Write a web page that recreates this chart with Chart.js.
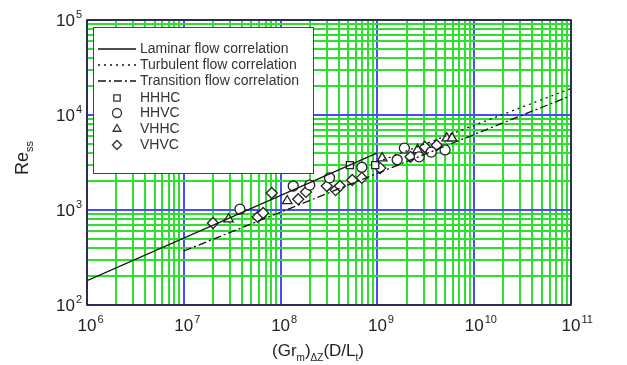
<!DOCTYPE html>
<html>
<head>
<meta charset="utf-8">
<script src="https://cdn.jsdelivr.net/npm/chart.js@4"></script>
<style>
  html, body { margin: 0; padding: 0; background: #fff; }
</style>
</head>
<body>
<canvas id="chart" width="627" height="365"></canvas>
<script>
// correlation lines (end points)
const laminarX = [1e6, 1e9];
const laminarY = [180, 4000];
const turbulentX = [1e9, 1e11];
const turbulentY = [3200, 19000];
const transitionX = [1e7, 1e11];
const transitionY = [370, 16000];

// measured data
const hhhcX = [5.2e8, 9.5e8];
const hhhcY = [2970, 2970];
const hhvcX = [3.8e7, 1.35e8, 2.0e8, 3.2e8, 6.9e8, 1.6e9, 1.9e9, 2.7e9, 3.6e9, 5.0e9];
const hhvcY = [1020, 1790, 1830, 2180, 2820, 3380, 4480, 3630, 4070, 4290];
const vhhcX = [2.9e7, 1.17e8, 1.12e9, 2.6e9, 5.2e9, 5.9e9];
const vhhcY = [800, 1245, 3520, 4290, 5700, 5700];
const vhvcX = [2.0e7, 5.8e7, 6.6e7, 8.1e7, 1.52e8, 1.83e8, 3.0e8, 3.7e8, 4.1e8, 5.5e8, 6.9e8, 1.07e9, 2.2e9, 3.1e9, 4.1e9];
const vhvcY = [730, 845, 930, 1510, 1300, 1550, 1790, 1620, 1790, 2070, 2180, 2760, 3630, 4600, 4800];

// axes
const xExps = [6, 7, 8, 9, 10, 11];
const yExps = [2, 3, 4, 5];

const legendLines = ["Laminar flow correlation", "Turbulent flow correlation", "Transition flow correlation"];
const legendMarks = ["HHHC", "HHVC", "VHHC", "VHVC"];

const BLUE = "#4a4aff";
const GREEN = "#2ee02e";
const FONT = "'Liberation Sans', Arial, sans-serif";

function pts(xs, ys) {
  return xs.map((x, i) => ({ x: x, y: ys[i] }));
}

// 1..9 x 10^k ticks for every decade
function decadeTicks(lo, hi) {
  const t = [];
  for (let e = lo; e < hi; e++) {
    for (let s = 1; s < 10; s++) t.push({ value: s * Math.pow(10, e) });
  }
  t.push({ value: Math.pow(10, hi) });
  return t;
}

function isDecade(v) {
  const l = Math.log10(v);
  return Math.abs(l - Math.round(l)) < 1e-6;
}

function gridColor(ctx) {
  return ctx.tick && isDecade(ctx.tick.value) ? BLUE : GREEN;
}

const lineSet = (label, xs, ys, dash) => ({
  type: "line",
  label: label,
  data: pts(xs, ys),
  borderColor: "#111",
  borderWidth: 1.3,
  borderDash: dash,
  pointRadius: 0,
  fill: false,
  tension: 0,
});

const markSet = (label, xs, ys, style, r) => ({
  type: "scatter",
  label: label,
  data: pts(xs, ys),
  pointStyle: style,
  pointRadius: r,
  backgroundColor: "#fff",
  borderColor: "#222",
  borderWidth: 1.3,
});

function drawPow(ctx, x, y, exp, align) {
  ctx.font = "17px " + FONT;
  const w1 = ctx.measureText("10").width;
  ctx.font = "11px " + FONT;
  const w2 = ctx.measureText(String(exp)).width;
  let x0;
  if (align === "center") x0 = x - w1 / 2;
  else x0 = x - w1 - w2;
  ctx.textAlign = "left";
  ctx.textBaseline = "alphabetic";
  ctx.font = "17px " + FONT;
  ctx.fillText("10", x0, y);
  ctx.font = "11px " + FONT;
  ctx.fillText(String(exp), x0 + w1 + 1, y - 8);
}

// text with subscripts: parts = [[text, isSub], ...]
function drawSubText(ctx, parts, size, subSize) {
  let w = 0;
  parts.forEach(p => {
    ctx.font = (p[1] ? subSize : size) + "px " + FONT;
    w += ctx.measureText(p[0]).width;
  });
  let x = -w / 2;
  parts.forEach(p => {
    ctx.font = (p[1] ? subSize : size) + "px " + FONT;
    ctx.fillText(p[0], x, p[1] ? 5 : 0);
    x += ctx.measureText(p[0]).width;
  });
}

const decorPlugin = {
  id: "decor",
  afterDatasetsDraw(chart) {
    const ctx = chart.ctx;
    const a = chart.chartArea;
    const xs = chart.scales.x;
    const ys = chart.scales.y;
    ctx.save();

    // frame
    ctx.strokeStyle = "#222";
    ctx.lineWidth = 1.5;
    ctx.strokeRect(a.left, a.top, a.right - a.left, a.bottom - a.top);

    // tick labels
    ctx.fillStyle = "#222";
    xExps.forEach(e => drawPow(ctx, xs.getPixelForValue(Math.pow(10, e)), a.bottom + 26, e, "center"));
    yExps.forEach(e => drawPow(ctx, a.left - 6, ys.getPixelForValue(Math.pow(10, e)) + 6, e, "right"));

    // axis titles
    ctx.textAlign = "left";
    ctx.textBaseline = "alphabetic";
    ctx.save();
    ctx.translate(318, 356);
    drawSubText(ctx, [["(Gr", false], ["m", true], [")", false], ["\u0394Z", true], ["(D/L", false], ["t", true], [")", false]], 17, 10);
    ctx.restore();
    ctx.save();
    ctx.translate(28, 158);
    ctx.rotate(-Math.PI / 2);
    drawSubText(ctx, [["Re", false], ["ss", true]], 18, 11);
    ctx.restore();

    // legend box
    const bx = 93, by = 27, bw = 220, bh = 146;
    ctx.fillStyle = "#fff";
    ctx.fillRect(bx, by, bw, bh);
    ctx.strokeStyle = "#444";
    ctx.lineWidth = 1;
    ctx.strokeRect(bx + 0.5, by + 0.5, bw, bh);

    const rowY = [49, 65, 81, 98, 113, 129, 145];
    const dashes = [[], [2, 4], [8, 3, 2, 3]];
    ctx.font = "14px " + FONT;
    ctx.textBaseline = "middle";
    legendLines.forEach((t, i) => {
      ctx.strokeStyle = "#111";
      ctx.lineWidth = 1.3;
      ctx.setLineDash(dashes[i]);
      ctx.beginPath();
      ctx.moveTo(98, rowY[i]);
      ctx.lineTo(136, rowY[i]);
      ctx.stroke();
      ctx.setLineDash([]);
      ctx.fillStyle = "#333";
      ctx.fillText(t, 140, rowY[i]);
    });
    const styles = ["rect", "circle", "triangle", "rectRot"];
    legendMarks.forEach((t, i) => {
      const y = rowY[3 + i];
      ctx.fillStyle = "#fff";
      ctx.strokeStyle = "#333";
      ctx.lineWidth = 1.3;
      Chart.helpers.drawPoint(ctx, { pointStyle: styles[i], radius: 4.5, borderWidth: 1.3, rotation: 0 }, 117, y);
      ctx.fillStyle = "#333";
      ctx.fillText(t, 140, y);
    });
    ctx.restore();
  },
};

new Chart(document.getElementById("chart"), {
  data: {
    datasets: [
      lineSet("Laminar flow correlation", laminarX, laminarY, []),
      lineSet("Turbulent flow correlation", turbulentX, turbulentY, [2, 4]),
      lineSet("Transition flow correlation", transitionX, transitionY, [8, 3, 2, 3]),
      markSet("HHHC", hhhcX, hhhcY, "rect", 5),
      markSet("HHVC", hhvcX, hhvcY, "circle", 5),
      markSet("VHHC", vhhcX, vhhcY, "triangle", 5.5),
      markSet("VHVC", vhvcX, vhvcY, "rectRot", 5.5),
    ],
  },
  options: {
    responsive: false,
    animation: false,
    devicePixelRatio: 1,
    layout: { padding: { top: 20, right: 56, left: 0, bottom: 0 } },
    plugins: {
      legend: { display: false },
      tooltip: { enabled: false },
    },
    scales: {
      x: {
        type: "logarithmic",
        min: 1e6,
        max: 1e11,
        afterBuildTicks: s => { s.ticks = decadeTicks(6, 11); },
        afterFit: s => { s.height = 60; },
        ticks: { autoSkip: false, display: false },
        grid: { color: gridColor, lineWidth: 2, drawTicks: false },
        border: { display: false },
      },
      y: {
        type: "logarithmic",
        min: 1e2,
        max: 1e5,
        afterBuildTicks: s => { s.ticks = decadeTicks(2, 5); },
        afterFit: s => { s.width = 87; },
        ticks: { autoSkip: false, display: false },
        grid: { color: gridColor, lineWidth: 2, drawTicks: false },
        border: { display: false },
      },
    },
  },
  plugins: [decorPlugin],
});
</script>
</body>
</html>
